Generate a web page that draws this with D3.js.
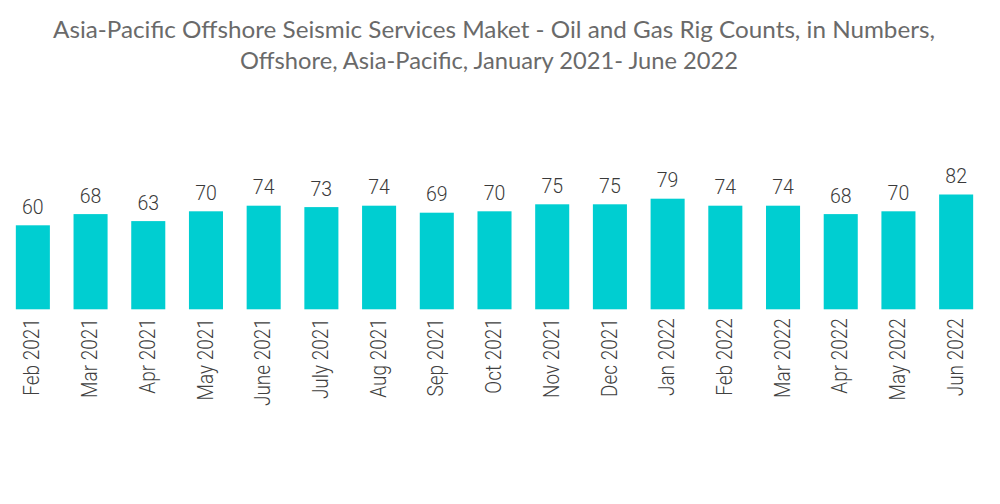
<!DOCTYPE html>
<html>
<head>
<meta charset="utf-8">
<script src="https://cdn.jsdelivr.net/npm/d3@7"></script>
<style>
html, body { margin: 0; padding: 0; background: #fff; }
svg { display: block; }
</style>
</head>
<body>
<svg id="chart" width="1000" height="504"></svg>
<script>
const titleLines = [
  "Asia-Pacific Offshore Seismic Services Maket - Oil and Gas Rig Counts, in Numbers,",
  "Offshore, Asia-Pacific, January 2021- June 2022"
];
const categories = ["Feb 2021","Mar 2021","Apr 2021","May 2021","June 2021","July 2021","Aug 2021","Sep 2021","Oct 2021","Nov 2021","Dec 2021","Jan 2022","Feb 2022","Mar 2022","Apr 2022","May 2022","Jun 2022"];
const rigCounts = [60,68,63,70,74,73,74,69,70,75,75,79,74,74,68,70,82];

const svg = d3.select("#chart");
const W = 1000, H = 504;
svg.append("rect").attr("width", W).attr("height", H).attr("fill", "#fff");

// Title
const titleSpecs = [{y: 38, x0: 53, x1: 935}, {y: 69, x0: 240, x1: 738}];
svg.append("g").selectAll("text").data(titleLines).join("text")
  .attr("x", (d, i) => (titleSpecs[i].x0 + titleSpecs[i].x1) / 2)
  .attr("y", (d, i) => titleSpecs[i].y)
  .attr("text-anchor", "middle")
  .attr("font-family", "Lato, 'Open Sans', sans-serif")
  .attr("font-size", "23.5px")
  .attr("fill", "#6a6a6a")
  .attr("textLength", (d, i) => titleSpecs[i].x1 - titleSpecs[i].x0)
  .attr("lengthAdjust", "spacingAndGlyphs")
  .text(d => d);

// Scales
const x = d3.scaleBand().domain(categories).range([4, 985]).paddingInner(0.41).paddingOuter(0.205);
const baseY = 309.3;
const y = d3.scaleLinear().domain([0, 100]).range([baseY, baseY - 140]);

const data = categories.map((c, i) => ({cat: c, val: rigCounts[i]}));

// Bars
svg.append("g").selectAll("rect").data(data).join("rect")
  .attr("x", d => x(d.cat))
  .attr("y", d => y(d.val))
  .attr("width", x.bandwidth())
  .attr("height", d => y(0) - y(d.val))
  .attr("fill", "#00ced1");

// Value labels
svg.append("g").selectAll("text").data(data).join("text")
  .attr("x", d => x(d.cat) + x.bandwidth() / 2)
  .attr("y", d => y(d.val) - 11.5)
  .attr("text-anchor", "middle")
  .attr("font-family", "Roboto, 'Liberation Sans', sans-serif")
  .attr("font-weight", 300)
  .attr("font-size", "19.5px")
  .attr("fill", "#3a3a3a")
  .text(d => d.val);

// X axis labels
const xAxis = d3.axisBottom(x).tickSize(0).tickPadding(0);
const gx = svg.append("g").attr("transform", `translate(0, ${baseY})`).call(xAxis);
gx.select(".domain").remove();
gx.selectAll(".tick text")
  .attr("font-family", "Roboto, 'Liberation Sans', sans-serif")
  .attr("font-weight", 300)
  .attr("font-size", "22.3px")
  .attr("fill", "#404040")
  .attr("text-anchor", "end")
  .attr("dy", null)
  .attr("y", 0)
  .attr("transform", "translate(6.6, 9) rotate(-90) scale(0.85, 1)");
</script>
</body>
</html>
